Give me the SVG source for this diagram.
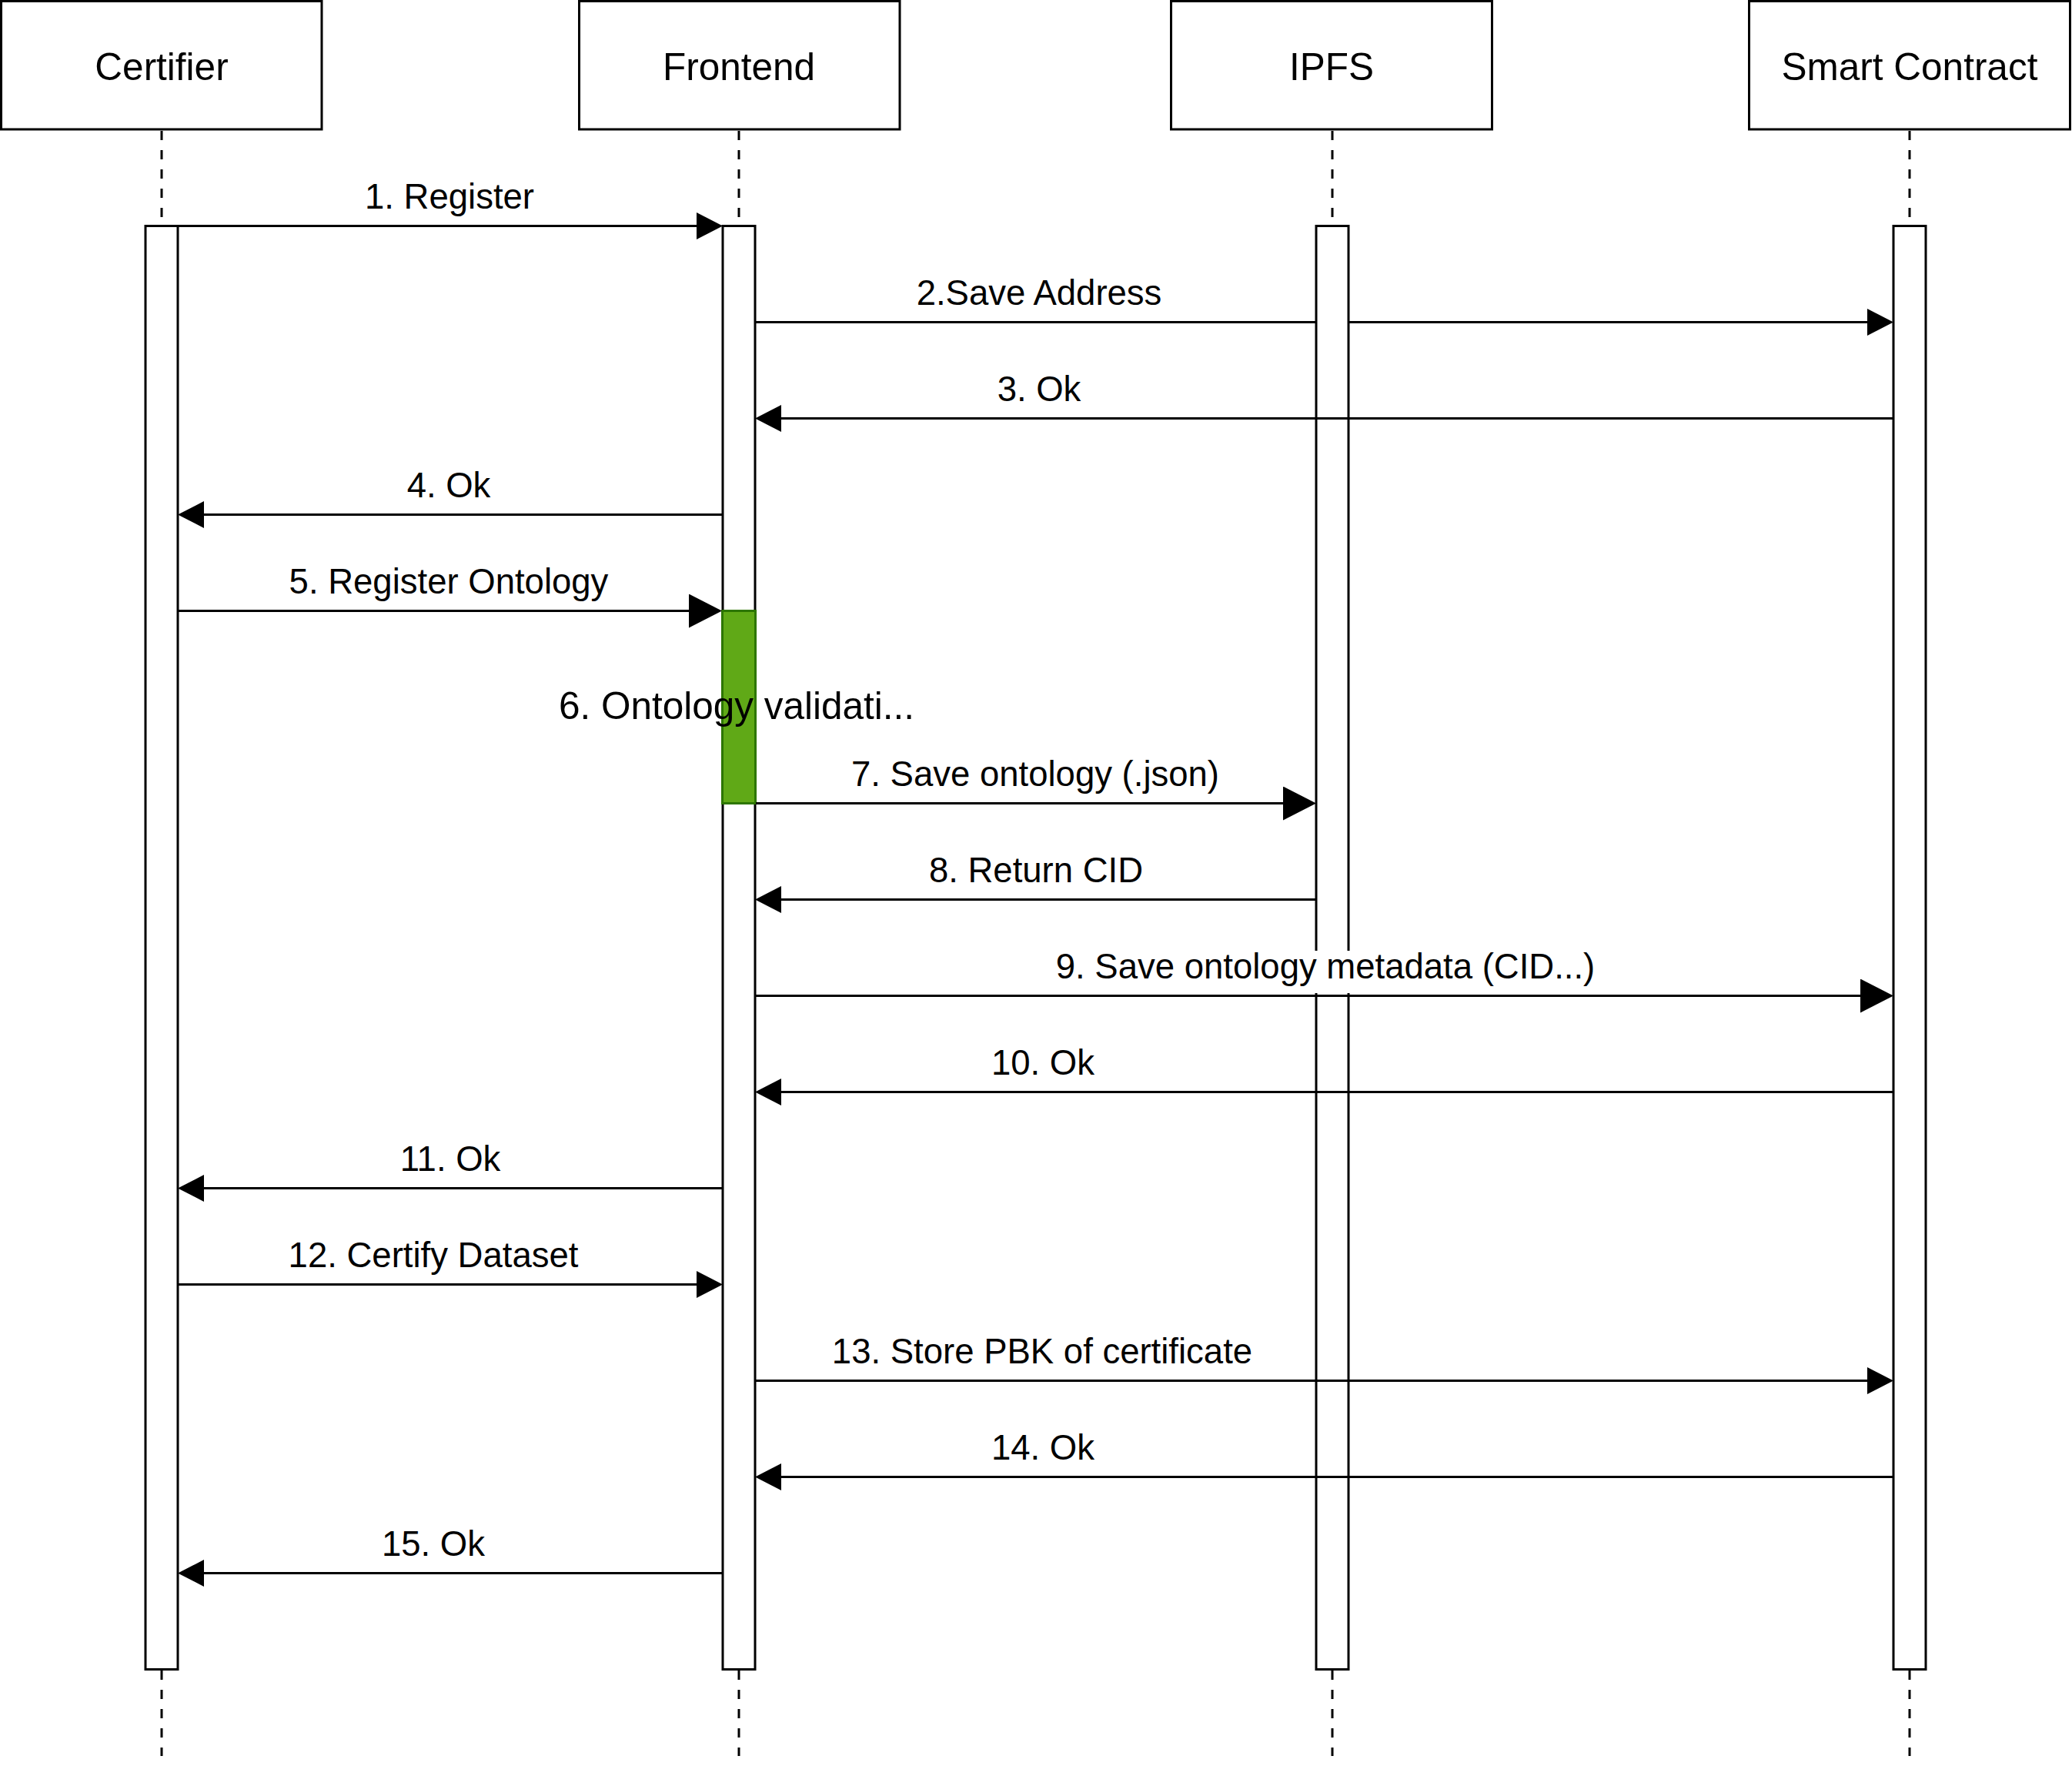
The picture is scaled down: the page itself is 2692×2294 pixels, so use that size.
<svg xmlns="http://www.w3.org/2000/svg" width="2692" height="2294" viewBox="0 0 2692 2294">
  <style>
    .box { fill: #ffffff; stroke: #000000; stroke-width: 3; }
    .life { stroke: #000000; stroke-width: 3; stroke-dasharray: 12 13; fill: none; }
    .act { fill: #ffffff; stroke: #000000; stroke-width: 3; }
    .proc { fill: #60a917; stroke: #2d7600; stroke-width: 3; }
    .msg { fill: none; stroke: #000000; stroke-width: 3; }
    .msg.s { marker-end: url(#headS); }
    .msg.b { marker-end: url(#headB); }
    .title { font-family: "Liberation Sans", Arial, Helvetica, sans-serif; font-size: 49.5px; fill: #000000; text-anchor: middle; }
    .lbl { font-family: "Liberation Sans", Arial, Helvetica, sans-serif; font-size: 45.5px; fill: #000000; text-anchor: middle; }
  </style>
  <defs>
    <marker id="headS" markerUnits="userSpaceOnUse" markerWidth="34" markerHeight="35" refX="0" refY="17.5" orient="auto" viewBox="0 0 34 35">
      <path d="M0,0 L34,17.5 L0,35 Z" fill="#000000"/>
    </marker>
    <marker id="headB" markerUnits="userSpaceOnUse" markerWidth="43" markerHeight="44" refX="0" refY="22" orient="auto" viewBox="0 0 43 44">
      <path d="M0,0 L43,22 L0,44 Z" fill="#000000"/>
    </marker>
  </defs>
  <rect x="0" y="0" width="2692" height="2294" fill="#ffffff"/>

  <g id="certifier">
    <rect class="box" x="1.5" y="1.5" width="416.5" height="166.5"/>
    <text class="title" x="210" y="103.5">Certifier</text>
    <line class="life" x1="210" y1="170" x2="210" y2="2281"/>
  </g>
  <g id="frontend">
    <rect class="box" x="752.5" y="1.5" width="416.5" height="166.5"/>
    <text class="title" x="960" y="103.5">Frontend</text>
    <line class="life" x1="960" y1="170" x2="960" y2="2281"/>
  </g>
  <g id="ipfs">
    <rect class="box" x="1521.5" y="1.5" width="417" height="166.5"/>
    <text class="title" x="1730" y="103.5">IPFS</text>
    <line class="life" x1="1731" y1="170" x2="1731" y2="2281"/>
  </g>
  <g id="smart-contract">
    <rect class="box" x="2272.5" y="1.5" width="417" height="166.5"/>
    <text class="title" x="2481" y="103.5">Smart Contract</text>
    <line class="life" x1="2481" y1="170" x2="2481" y2="2281"/>
  </g>

  <g id="certifier-activation">
    <rect class="act" x="189" y="293.5" width="42" height="1875"/>
  </g>
  <g id="frontend-activation">
    <rect class="act" x="939" y="293.5" width="42" height="1875"/>
  </g>
  <g id="ipfs-activation">
    <rect class="act" x="1710" y="293.5" width="42" height="1875"/>
  </g>
  <g id="smart-contract-activation">
    <rect class="act" x="2460" y="293.5" width="42" height="1875"/>
  </g>
  <g id="ontology-validation">
    <rect class="proc" x="938.5" y="793.5" width="43" height="250"/>
    <text class="title" x="957" y="934">6. Ontology validati...</text>
  </g>

  <g id="connectors">
    <path class="msg s" d="M231,293.5 H905"/>
    <text class="lbl" x="584" y="270.5">1. Register</text>

    <path class="msg s" d="M981,418.5 H1710 M1752,418.5 H2426"/>
    <text class="lbl" x="1350" y="395.5">2.Save Address</text>

    <path class="msg s" d="M2460,543.5 H1015"/>
    <text class="lbl" x="1350" y="520.5">3. Ok</text>

    <path class="msg s" d="M939,668.5 H265"/>
    <text class="lbl" x="583" y="645.5">4. Ok</text>

    <path class="msg b" d="M231,793.5 H895"/>
    <text class="lbl" x="583" y="770.5">5. Register Ontology</text>

    <path class="msg b" d="M982,1043.5 H1667"/>
    <text class="lbl" x="1345" y="1020.5">7. Save ontology (.json)</text>

    <path class="msg s" d="M1710,1168.5 H1015"/>
    <text class="lbl" x="1346" y="1145.5">8. Return CID</text>

    <path class="msg b" d="M981,1293.5 H2417"/>
    <rect x="1368" y="1235" width="708" height="55" fill="#ffffff"/>
    <text class="lbl" x="1722" y="1270.5">9. Save ontology metadata (CID...)</text>

    <path class="msg s" d="M2460,1418.5 H1015"/>
    <text class="lbl" x="1355" y="1395.5">10. Ok</text>

    <path class="msg s" d="M939,1543.5 H265"/>
    <text class="lbl" x="585" y="1520.5">11. Ok</text>

    <path class="msg s" d="M231,1668.5 H905"/>
    <text class="lbl" x="563" y="1645.5">12. Certify Dataset</text>

    <path class="msg s" d="M981,1793.5 H2426"/>
    <text class="lbl" x="1354" y="1770.5">13. Store PBK of certificate</text>

    <path class="msg s" d="M2460,1918.5 H1015"/>
    <text class="lbl" x="1355" y="1895.5">14. Ok</text>

    <path class="msg s" d="M939,2043.5 H265"/>
    <text class="lbl" x="563" y="2020.5">15. Ok</text>
  </g>
</svg>
